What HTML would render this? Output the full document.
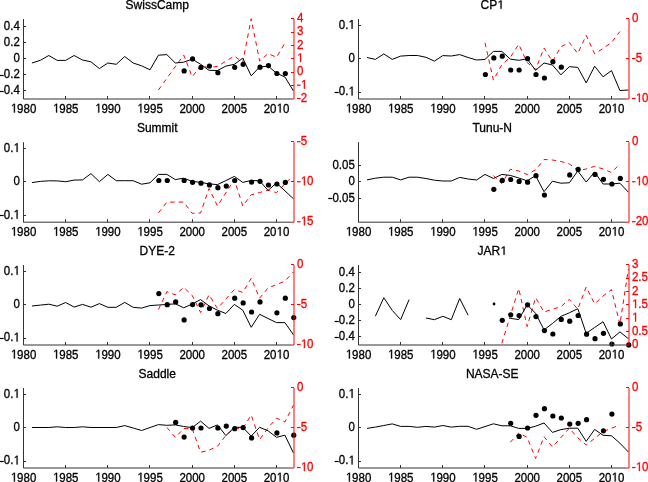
<!DOCTYPE html>
<html><head><meta charset="utf-8"><style>
html,body{margin:0;padding:0;background:#fff;}
svg{display:block;will-change:transform;}
text{font-family:"Liberation Sans",sans-serif;fill:#000;stroke:#000;stroke-width:0.3px;}
.r{fill:#ff0000;stroke:#ff0000;}
.h{fill-opacity:0;stroke-opacity:0;}
</style></head><body>
<svg width="648" height="482" viewBox="0 0 648 482">
<g transform="translate(157.23 8.7)"><text font-size="12" text-anchor="middle">SwissCamp</text></g>
<polyline points="158.43,90 183.73,55 192.16,76.8 200.59,65.8 209.03,67.6 217.46,66.4 225.89,61.2 234.32,56 242.76,62.4 251.19,18.7 259.62,61 268.06,53.6 276.49,57.3 284.92,43" fill="none" stroke="#ff0000" stroke-width="1" stroke-dasharray="4.5,4"/>
<polyline points="31.93,63 40.37,60.3 48.8,55.5 57.23,60.4 65.66,60.4 74.1,55.5 82.53,60 90.96,61.8 99.4,68.6 107.83,63 116.26,64.3 124.7,56.5 133.13,63 141.56,65.8 150,69.8 158.43,55.2 166.86,54.6 175.29,63 183.73,62.2 192.16,59.1 200.59,64.3 209.03,70.3 217.46,70.5 225.89,66.1 234.32,64.3 242.76,58.2 251.19,75.8 259.62,67 268.06,66.1 276.49,73.1 284.92,77 293.36,90.8" fill="none" stroke="#000" stroke-width="1"/>
<circle cx="184.13" cy="70.9" r="2.6" fill="#000"/>
<circle cx="192.56" cy="58.9" r="2.6" fill="#000"/>
<circle cx="200.99" cy="67.4" r="2.6" fill="#000"/>
<circle cx="209.43" cy="66.1" r="2.6" fill="#000"/>
<circle cx="217.86" cy="72.7" r="2.6" fill="#000"/>
<circle cx="234.72" cy="67.3" r="2.6" fill="#000"/>
<circle cx="243.16" cy="64.3" r="2.6" fill="#000"/>
<circle cx="260.02" cy="67.2" r="2.6" fill="#000"/>
<circle cx="268.46" cy="65.6" r="2.6" fill="#000"/>
<circle cx="276.89" cy="73.5" r="2.6" fill="#000"/>
<circle cx="285.32" cy="73.5" r="2.6" fill="#000"/>
<path d="M23.5,19 V99 H291" fill="none" stroke="#333" stroke-width="1"/>
<path d="M23.5,99 v-3" stroke="#333" stroke-width="1"/>
<g transform="translate(23.5 112.5) scale(1 1.1)"><text font-size="11.5" text-anchor="middle"><tspan class="h">1</tspan>980</text><path d="M-9.61 0V-6.95L-11.4 -5.67V-6.63L-9.53 -7.91H-8.59V0Z" fill="#000" stroke="#000" stroke-width="0.3" stroke-linejoin="miter"/></g>
<path d="M65.5,99 v-3" stroke="#333" stroke-width="1"/>
<g transform="translate(65.66 112.5) scale(1 1.1)"><text font-size="11.5" text-anchor="middle"><tspan class="h">1</tspan>985</text><path d="M-9.61 0V-6.95L-11.4 -5.67V-6.63L-9.53 -7.91H-8.59V0Z" fill="#000" stroke="#000" stroke-width="0.3" stroke-linejoin="miter"/></g>
<path d="M107.5,99 v-3" stroke="#333" stroke-width="1"/>
<g transform="translate(107.83 112.5) scale(1 1.1)"><text font-size="11.5" text-anchor="middle"><tspan class="h">1</tspan>990</text><path d="M-9.61 0V-6.95L-11.4 -5.67V-6.63L-9.53 -7.91H-8.59V0Z" fill="#000" stroke="#000" stroke-width="0.3" stroke-linejoin="miter"/></g>
<path d="M149.5,99 v-3" stroke="#333" stroke-width="1"/>
<g transform="translate(150 112.5) scale(1 1.1)"><text font-size="11.5" text-anchor="middle"><tspan class="h">1</tspan>995</text><path d="M-9.61 0V-6.95L-11.4 -5.67V-6.63L-9.53 -7.91H-8.59V0Z" fill="#000" stroke="#000" stroke-width="0.3" stroke-linejoin="miter"/></g>
<path d="M192.5,99 v-3" stroke="#333" stroke-width="1"/>
<g transform="translate(192.16 112.5) scale(1 1.1)"><text font-size="11.5" text-anchor="middle">2000</text></g>
<path d="M234.5,99 v-3" stroke="#333" stroke-width="1"/>
<g transform="translate(234.32 112.5) scale(1 1.1)"><text font-size="11.5" text-anchor="middle">2005</text></g>
<path d="M276.5,99 v-3" stroke="#333" stroke-width="1"/>
<g transform="translate(276.49 112.5) scale(1 1.1)"><text font-size="11.5" text-anchor="middle">20<tspan class="h">1</tspan>0</text><path d="M3.17 0V-6.95L1.39 -5.67V-6.63L3.26 -7.91H4.19V0Z" fill="#000" stroke="#000" stroke-width="0.3" stroke-linejoin="miter"/></g>
<path d="M23.5,26.5 h2.5" stroke="#333" stroke-width="1"/>
<g transform="translate(19.8 30.1) scale(1 1.1)"><text font-size="11.5" text-anchor="end">0.4</text></g>
<path d="M23.5,42.5 h2.5" stroke="#333" stroke-width="1"/>
<g transform="translate(19.8 46.1) scale(1 1.1)"><text font-size="11.5" text-anchor="end">0.2</text></g>
<path d="M23.5,58.5 h2.5" stroke="#333" stroke-width="1"/>
<g transform="translate(19.8 62.1) scale(1 1.1)"><text font-size="11.5" text-anchor="end">0</text></g>
<path d="M23.5,74.5 h2.5" stroke="#333" stroke-width="1"/>
<rect x="-0.39" y="74.9" width="4.1" height="1.2" fill="#000"/>
<g transform="translate(19.8 78.1) scale(1 1.1)"><text font-size="11.5" text-anchor="end">0.2</text></g>
<path d="M23.5,90.5 h2.5" stroke="#333" stroke-width="1"/>
<rect x="-0.39" y="90.9" width="4.1" height="1.2" fill="#000"/>
<g transform="translate(19.8 94.1) scale(1 1.1)"><text font-size="11.5" text-anchor="end">0.4</text></g>
<path d="M294,19 V99" fill="none" stroke="#ff0000" stroke-width="1"/>
<path d="M294,18.5 h-3" stroke="#ff0000" stroke-width="1"/>
<g transform="translate(296.9 22.1) scale(1 1.1)"><text font-size="11.5" class="r">4</text></g>
<path d="M294,32.5 h-3" stroke="#ff0000" stroke-width="1"/>
<g transform="translate(296.9 35.43) scale(1 1.1)"><text font-size="11.5" class="r">3</text></g>
<path d="M294,45.5 h-3" stroke="#ff0000" stroke-width="1"/>
<g transform="translate(296.9 48.77) scale(1 1.1)"><text font-size="11.5" class="r">2</text></g>
<path d="M294,58.5 h-3" stroke="#ff0000" stroke-width="1"/>
<g transform="translate(296.9 62.1) scale(1 1.1)"><text font-size="11.5" class="r"><tspan class="h">1</tspan></text><path d="M3.17 0V-6.95L1.39 -5.67V-6.63L3.26 -7.91H4.19V0Z" fill="#ff0000" stroke="#ff0000" stroke-width="0.3" stroke-linejoin="miter"/></g>
<path d="M294,72.5 h-3" stroke="#ff0000" stroke-width="1"/>
<g transform="translate(296.9 75.43) scale(1 1.1)"><text font-size="11.5" class="r">0</text></g>
<path d="M294,85.5 h-3" stroke="#ff0000" stroke-width="1"/>
<rect x="297" y="84.6" width="3.6" height="1.2" fill="#ff0000"/>
<g transform="translate(300.73 88.77) scale(1 1.1)"><text font-size="11.5" class="r"><tspan class="h">1</tspan></text><path d="M3.17 0V-6.95L1.39 -5.67V-6.63L3.26 -7.91H4.19V0Z" fill="#ff0000" stroke="#ff0000" stroke-width="0.3" stroke-linejoin="miter"/></g>
<path d="M294,99 h-3" stroke="#ff0000" stroke-width="1"/>
<rect x="297" y="97.93" width="3.6" height="1.2" fill="#ff0000"/>
<g transform="translate(300.73 102.1) scale(1 1.1)"><text font-size="11.5" class="r">2</text></g>
<g transform="translate(492.23 8.7)"><text font-size="12" text-anchor="middle">CP<tspan class="h">1</tspan></text><path d="M8.3 0V-7.25L6.44 -5.92V-6.91L8.39 -8.26H9.36V0Z" fill="#000" stroke="#000" stroke-width="0.3" stroke-linejoin="miter"/></g>
<polyline points="485,42.8 493.43,80.1 501.86,64.6 510.29,57.3 518.73,44.3 527.16,62.5 535.59,69.5 544.03,48 552.46,61.5 560.89,46.8 569.33,42.4 577.76,53.5 586.19,35.3 594.62,53.8 603.06,48.5 611.49,42.4 619.92,31.5" fill="none" stroke="#ff0000" stroke-width="1" stroke-dasharray="4.5,4"/>
<polyline points="366.93,57.5 375.37,59.4 383.8,53.9 392.23,59.4 400.67,56.1 409.1,55.5 417.53,55.5 425.96,57.3 434.4,61.1 442.83,55.6 451.26,56 459.7,54.6 468.13,57.5 476.56,60 485,59.4 493.43,51.4 501.86,51.4 510.29,59.1 518.73,60.3 527.16,58.8 535.59,70.4 544.03,63 552.46,65 560.89,74.8 569.33,66.7 577.76,67.4 586.19,82.9 594.62,66.2 603.06,76.8 611.49,70.6 619.92,90.5 628.36,90" fill="none" stroke="#000" stroke-width="1"/>
<circle cx="485.39" cy="74.5" r="2.6" fill="#000"/>
<circle cx="493.83" cy="57.9" r="2.6" fill="#000"/>
<circle cx="502.26" cy="56.2" r="2.6" fill="#000"/>
<circle cx="510.69" cy="70" r="2.6" fill="#000"/>
<circle cx="519.13" cy="70" r="2.6" fill="#000"/>
<circle cx="527.56" cy="58.7" r="2.6" fill="#000"/>
<circle cx="535.99" cy="74.5" r="2.6" fill="#000"/>
<circle cx="544.43" cy="78" r="2.6" fill="#000"/>
<circle cx="552.86" cy="61.7" r="2.6" fill="#000"/>
<circle cx="561.29" cy="67.2" r="2.6" fill="#000"/>
<path d="M358.5,19 V99 H626" fill="none" stroke="#333" stroke-width="1"/>
<path d="M358.5,99 v-3" stroke="#333" stroke-width="1"/>
<g transform="translate(358.5 112.5) scale(1 1.1)"><text font-size="11.5" text-anchor="middle"><tspan class="h">1</tspan>980</text><path d="M-9.61 0V-6.95L-11.4 -5.67V-6.63L-9.53 -7.91H-8.59V0Z" fill="#000" stroke="#000" stroke-width="0.3" stroke-linejoin="miter"/></g>
<path d="M400.5,99 v-3" stroke="#333" stroke-width="1"/>
<g transform="translate(400.67 112.5) scale(1 1.1)"><text font-size="11.5" text-anchor="middle"><tspan class="h">1</tspan>985</text><path d="M-9.61 0V-6.95L-11.4 -5.67V-6.63L-9.53 -7.91H-8.59V0Z" fill="#000" stroke="#000" stroke-width="0.3" stroke-linejoin="miter"/></g>
<path d="M442.5,99 v-3" stroke="#333" stroke-width="1"/>
<g transform="translate(442.83 112.5) scale(1 1.1)"><text font-size="11.5" text-anchor="middle"><tspan class="h">1</tspan>990</text><path d="M-9.61 0V-6.95L-11.4 -5.67V-6.63L-9.53 -7.91H-8.59V0Z" fill="#000" stroke="#000" stroke-width="0.3" stroke-linejoin="miter"/></g>
<path d="M484.5,99 v-3" stroke="#333" stroke-width="1"/>
<g transform="translate(485 112.5) scale(1 1.1)"><text font-size="11.5" text-anchor="middle"><tspan class="h">1</tspan>995</text><path d="M-9.61 0V-6.95L-11.4 -5.67V-6.63L-9.53 -7.91H-8.59V0Z" fill="#000" stroke="#000" stroke-width="0.3" stroke-linejoin="miter"/></g>
<path d="M527.5,99 v-3" stroke="#333" stroke-width="1"/>
<g transform="translate(527.16 112.5) scale(1 1.1)"><text font-size="11.5" text-anchor="middle">2000</text></g>
<path d="M569.5,99 v-3" stroke="#333" stroke-width="1"/>
<g transform="translate(569.33 112.5) scale(1 1.1)"><text font-size="11.5" text-anchor="middle">2005</text></g>
<path d="M611.5,99 v-3" stroke="#333" stroke-width="1"/>
<g transform="translate(611.49 112.5) scale(1 1.1)"><text font-size="11.5" text-anchor="middle">20<tspan class="h">1</tspan>0</text><path d="M3.17 0V-6.95L1.39 -5.67V-6.63L3.26 -7.91H4.19V0Z" fill="#000" stroke="#000" stroke-width="0.3" stroke-linejoin="miter"/></g>
<path d="M358.5,25.5 h2.5" stroke="#333" stroke-width="1"/>
<g transform="translate(354.8 28.77) scale(1 1.1)"><text font-size="11.5" text-anchor="end">0.<tspan class="h">1</tspan></text><path d="M-3.22 0V-6.95L-5 -5.67V-6.63L-3.13 -7.91H-2.2V0Z" fill="#000" stroke="#000" stroke-width="0.3" stroke-linejoin="miter"/></g>
<path d="M358.5,58.5 h2.5" stroke="#333" stroke-width="1"/>
<g transform="translate(354.8 62.1) scale(1 1.1)"><text font-size="11.5" text-anchor="end">0</text></g>
<path d="M358.5,92.5 h2.5" stroke="#333" stroke-width="1"/>
<rect x="334.62" y="91.9" width="4.1" height="1.2" fill="#000"/>
<g transform="translate(354.8 95.43) scale(1 1.1)"><text font-size="11.5" text-anchor="end">0.<tspan class="h">1</tspan></text><path d="M-3.22 0V-6.95L-5 -5.67V-6.63L-3.13 -7.91H-2.2V0Z" fill="#000" stroke="#000" stroke-width="0.3" stroke-linejoin="miter"/></g>
<path d="M629,19 V99" fill="none" stroke="#ff0000" stroke-width="1"/>
<path d="M629,18.5 h-3" stroke="#ff0000" stroke-width="1"/>
<g transform="translate(631.9 22.1) scale(1 1.1)"><text font-size="11.5" class="r">0</text></g>
<path d="M629,58.5 h-3" stroke="#ff0000" stroke-width="1"/>
<rect x="632" y="57.93" width="3.6" height="1.2" fill="#ff0000"/>
<g transform="translate(635.73 62.1) scale(1 1.1)"><text font-size="11.5" class="r">5</text></g>
<path d="M629,99 h-3" stroke="#ff0000" stroke-width="1"/>
<rect x="632" y="97.93" width="3.6" height="1.2" fill="#ff0000"/>
<g transform="translate(635.73 102.1) scale(1 1.1)"><text font-size="11.5" class="r"><tspan class="h">1</tspan>0</text><path d="M3.17 0V-6.95L1.39 -5.67V-6.63L3.26 -7.91H4.19V0Z" fill="#ff0000" stroke="#ff0000" stroke-width="0.3" stroke-linejoin="miter"/></g>
<g transform="translate(157.23 131.9)"><text font-size="12" text-anchor="middle">Summit</text></g>
<polyline points="158.43,212.9 166.86,202.1 175.29,202.1 183.73,202.1 192.16,213.3 200.59,213 209.03,188.5 217.46,206 234.32,179.5 242.76,206 251.19,194.8 259.62,192.5 268.06,190.3 276.49,192.6 289.98,178.7" fill="none" stroke="#ff0000" stroke-width="1" stroke-dasharray="4.5,4"/>
<polyline points="31.93,182.6 40.37,181.4 48.8,180.8 57.23,180.9 65.66,181.7 74.1,180.1 82.53,179.9 90.96,173.6 99.4,181.7 107.83,174.4 116.26,180.7 124.7,180.7 133.13,180.7 141.56,184.2 150,182.8 158.43,174.4 166.86,174.4 175.29,179.6 183.73,178.2 192.16,181.4 200.59,182.3 209.03,183.9 217.46,184.6 225.89,180.6 234.32,176.4 242.76,182.4 251.19,180.5 259.62,180.8 268.06,190.4 276.49,183 293.36,198.7" fill="none" stroke="#000" stroke-width="1"/>
<circle cx="158.83" cy="180.5" r="2.6" fill="#000"/>
<circle cx="167.26" cy="180.5" r="2.6" fill="#000"/>
<circle cx="184.13" cy="180.5" r="2.6" fill="#000"/>
<circle cx="192.56" cy="182.3" r="2.6" fill="#000"/>
<circle cx="200.99" cy="183.2" r="2.6" fill="#000"/>
<circle cx="209.43" cy="184.9" r="2.6" fill="#000"/>
<circle cx="217.86" cy="187.7" r="2.6" fill="#000"/>
<circle cx="226.29" cy="186.1" r="2.6" fill="#000"/>
<circle cx="234.72" cy="180.5" r="2.6" fill="#000"/>
<circle cx="251.59" cy="182.1" r="2.6" fill="#000"/>
<circle cx="260.02" cy="181.3" r="2.6" fill="#000"/>
<circle cx="268.46" cy="185" r="2.6" fill="#000"/>
<circle cx="276.89" cy="184" r="2.6" fill="#000"/>
<circle cx="285.32" cy="182.4" r="2.6" fill="#000"/>
<path d="M23.5,142.2 V222.2 H291" fill="none" stroke="#333" stroke-width="1"/>
<path d="M23.5,222.2 v-3" stroke="#333" stroke-width="1"/>
<g transform="translate(23.5 235.7) scale(1 1.1)"><text font-size="11.5" text-anchor="middle"><tspan class="h">1</tspan>980</text><path d="M-9.61 0V-6.95L-11.4 -5.67V-6.63L-9.53 -7.91H-8.59V0Z" fill="#000" stroke="#000" stroke-width="0.3" stroke-linejoin="miter"/></g>
<path d="M65.5,222.2 v-3" stroke="#333" stroke-width="1"/>
<g transform="translate(65.66 235.7) scale(1 1.1)"><text font-size="11.5" text-anchor="middle"><tspan class="h">1</tspan>985</text><path d="M-9.61 0V-6.95L-11.4 -5.67V-6.63L-9.53 -7.91H-8.59V0Z" fill="#000" stroke="#000" stroke-width="0.3" stroke-linejoin="miter"/></g>
<path d="M107.5,222.2 v-3" stroke="#333" stroke-width="1"/>
<g transform="translate(107.83 235.7) scale(1 1.1)"><text font-size="11.5" text-anchor="middle"><tspan class="h">1</tspan>990</text><path d="M-9.61 0V-6.95L-11.4 -5.67V-6.63L-9.53 -7.91H-8.59V0Z" fill="#000" stroke="#000" stroke-width="0.3" stroke-linejoin="miter"/></g>
<path d="M149.5,222.2 v-3" stroke="#333" stroke-width="1"/>
<g transform="translate(150 235.7) scale(1 1.1)"><text font-size="11.5" text-anchor="middle"><tspan class="h">1</tspan>995</text><path d="M-9.61 0V-6.95L-11.4 -5.67V-6.63L-9.53 -7.91H-8.59V0Z" fill="#000" stroke="#000" stroke-width="0.3" stroke-linejoin="miter"/></g>
<path d="M192.5,222.2 v-3" stroke="#333" stroke-width="1"/>
<g transform="translate(192.16 235.7) scale(1 1.1)"><text font-size="11.5" text-anchor="middle">2000</text></g>
<path d="M234.5,222.2 v-3" stroke="#333" stroke-width="1"/>
<g transform="translate(234.32 235.7) scale(1 1.1)"><text font-size="11.5" text-anchor="middle">2005</text></g>
<path d="M276.5,222.2 v-3" stroke="#333" stroke-width="1"/>
<g transform="translate(276.49 235.7) scale(1 1.1)"><text font-size="11.5" text-anchor="middle">20<tspan class="h">1</tspan>0</text><path d="M3.17 0V-6.95L1.39 -5.67V-6.63L3.26 -7.91H4.19V0Z" fill="#000" stroke="#000" stroke-width="0.3" stroke-linejoin="miter"/></g>
<path d="M23.5,148.5 h2.5" stroke="#333" stroke-width="1"/>
<g transform="translate(19.8 151.97) scale(1 1.1)"><text font-size="11.5" text-anchor="end">0.<tspan class="h">1</tspan></text><path d="M-3.22 0V-6.95L-5 -5.67V-6.63L-3.13 -7.91H-2.2V0Z" fill="#000" stroke="#000" stroke-width="0.3" stroke-linejoin="miter"/></g>
<path d="M23.5,181.5 h2.5" stroke="#333" stroke-width="1"/>
<g transform="translate(19.8 185.3) scale(1 1.1)"><text font-size="11.5" text-anchor="end">0</text></g>
<path d="M23.5,215.5 h2.5" stroke="#333" stroke-width="1"/>
<rect x="-0.39" y="214.9" width="4.1" height="1.2" fill="#000"/>
<g transform="translate(19.8 218.63) scale(1 1.1)"><text font-size="11.5" text-anchor="end">0.<tspan class="h">1</tspan></text><path d="M-3.22 0V-6.95L-5 -5.67V-6.63L-3.13 -7.91H-2.2V0Z" fill="#000" stroke="#000" stroke-width="0.3" stroke-linejoin="miter"/></g>
<path d="M294,142.2 V222.2" fill="none" stroke="#ff0000" stroke-width="1"/>
<path d="M294,141.5 h-3" stroke="#ff0000" stroke-width="1"/>
<rect x="297" y="141.13" width="3.6" height="1.2" fill="#ff0000"/>
<g transform="translate(300.73 145.3) scale(1 1.1)"><text font-size="11.5" class="r">5</text></g>
<path d="M294,181.5 h-3" stroke="#ff0000" stroke-width="1"/>
<rect x="297" y="181.13" width="3.6" height="1.2" fill="#ff0000"/>
<g transform="translate(300.73 185.3) scale(1 1.1)"><text font-size="11.5" class="r"><tspan class="h">1</tspan>0</text><path d="M3.17 0V-6.95L1.39 -5.67V-6.63L3.26 -7.91H4.19V0Z" fill="#ff0000" stroke="#ff0000" stroke-width="0.3" stroke-linejoin="miter"/></g>
<path d="M294,222.2 h-3" stroke="#ff0000" stroke-width="1"/>
<rect x="297" y="221.13" width="3.6" height="1.2" fill="#ff0000"/>
<g transform="translate(300.73 225.3) scale(1 1.1)"><text font-size="11.5" class="r"><tspan class="h">1</tspan>5</text><path d="M3.17 0V-6.95L1.39 -5.67V-6.63L3.26 -7.91H4.19V0Z" fill="#ff0000" stroke="#ff0000" stroke-width="0.3" stroke-linejoin="miter"/></g>
<g transform="translate(492.23 131.9)"><text font-size="12" text-anchor="middle">Tunu-N</text></g>
<polyline points="493.43,175.7 501.86,183.5 510.29,169.2 518.73,171 527.16,174.5 535.59,169.8 544.03,159.5 552.46,160 560.89,161.5 569.33,163.9 577.76,170.5 586.19,169 594.62,166.3 603.06,169 611.49,172.5 619.92,163.9" fill="none" stroke="#ff0000" stroke-width="1" stroke-dasharray="4.5,4"/>
<polyline points="366.93,179.9 375.37,178.2 383.8,177.2 392.23,177.2 400.67,179.9 409.1,177.2 417.53,177.2 425.96,178.5 434.4,180.2 442.83,181 451.26,181 459.7,177.4 468.13,179 476.56,180 485,174.4 493.43,178.5 501.86,174.4 510.29,175.4 518.73,178 527.16,180.8 535.59,175.6 544.03,191.7 552.46,181.2 560.89,183.2 569.33,182.8 577.76,171 586.19,182 594.62,172.1 603.06,184 611.49,184 619.92,183.2 628.36,192.2" fill="none" stroke="#000" stroke-width="1"/>
<circle cx="493.83" cy="189.3" r="2.6" fill="#000"/>
<circle cx="502.26" cy="180.4" r="2.6" fill="#000"/>
<circle cx="510.69" cy="179.5" r="2.6" fill="#000"/>
<circle cx="519.13" cy="181.4" r="2.6" fill="#000"/>
<circle cx="527.56" cy="182.2" r="2.6" fill="#000"/>
<circle cx="535.99" cy="175.7" r="2.6" fill="#000"/>
<circle cx="544.43" cy="195.1" r="2.6" fill="#000"/>
<circle cx="569.73" cy="174.9" r="2.6" fill="#000"/>
<circle cx="578.16" cy="169.4" r="2.6" fill="#000"/>
<circle cx="595.02" cy="174.4" r="2.6" fill="#000"/>
<circle cx="603.46" cy="179.3" r="2.6" fill="#000"/>
<circle cx="611.89" cy="184" r="2.6" fill="#000"/>
<circle cx="620.32" cy="178.4" r="2.6" fill="#000"/>
<path d="M358.5,142.2 V222.2 H626" fill="none" stroke="#333" stroke-width="1"/>
<path d="M358.5,222.2 v-3" stroke="#333" stroke-width="1"/>
<g transform="translate(358.5 235.7) scale(1 1.1)"><text font-size="11.5" text-anchor="middle"><tspan class="h">1</tspan>980</text><path d="M-9.61 0V-6.95L-11.4 -5.67V-6.63L-9.53 -7.91H-8.59V0Z" fill="#000" stroke="#000" stroke-width="0.3" stroke-linejoin="miter"/></g>
<path d="M400.5,222.2 v-3" stroke="#333" stroke-width="1"/>
<g transform="translate(400.67 235.7) scale(1 1.1)"><text font-size="11.5" text-anchor="middle"><tspan class="h">1</tspan>985</text><path d="M-9.61 0V-6.95L-11.4 -5.67V-6.63L-9.53 -7.91H-8.59V0Z" fill="#000" stroke="#000" stroke-width="0.3" stroke-linejoin="miter"/></g>
<path d="M442.5,222.2 v-3" stroke="#333" stroke-width="1"/>
<g transform="translate(442.83 235.7) scale(1 1.1)"><text font-size="11.5" text-anchor="middle"><tspan class="h">1</tspan>990</text><path d="M-9.61 0V-6.95L-11.4 -5.67V-6.63L-9.53 -7.91H-8.59V0Z" fill="#000" stroke="#000" stroke-width="0.3" stroke-linejoin="miter"/></g>
<path d="M484.5,222.2 v-3" stroke="#333" stroke-width="1"/>
<g transform="translate(485 235.7) scale(1 1.1)"><text font-size="11.5" text-anchor="middle"><tspan class="h">1</tspan>995</text><path d="M-9.61 0V-6.95L-11.4 -5.67V-6.63L-9.53 -7.91H-8.59V0Z" fill="#000" stroke="#000" stroke-width="0.3" stroke-linejoin="miter"/></g>
<path d="M527.5,222.2 v-3" stroke="#333" stroke-width="1"/>
<g transform="translate(527.16 235.7) scale(1 1.1)"><text font-size="11.5" text-anchor="middle">2000</text></g>
<path d="M569.5,222.2 v-3" stroke="#333" stroke-width="1"/>
<g transform="translate(569.33 235.7) scale(1 1.1)"><text font-size="11.5" text-anchor="middle">2005</text></g>
<path d="M611.5,222.2 v-3" stroke="#333" stroke-width="1"/>
<g transform="translate(611.49 235.7) scale(1 1.1)"><text font-size="11.5" text-anchor="middle">20<tspan class="h">1</tspan>0</text><path d="M3.17 0V-6.95L1.39 -5.67V-6.63L3.26 -7.91H4.19V0Z" fill="#000" stroke="#000" stroke-width="0.3" stroke-linejoin="miter"/></g>
<path d="M358.5,165.5 h2.5" stroke="#333" stroke-width="1"/>
<g transform="translate(354.8 168.63) scale(1 1.1)"><text font-size="11.5" text-anchor="end">0.05</text></g>
<path d="M358.5,181.5 h2.5" stroke="#333" stroke-width="1"/>
<g transform="translate(354.8 185.3) scale(1 1.1)"><text font-size="11.5" text-anchor="end">0</text></g>
<path d="M358.5,198.5 h2.5" stroke="#333" stroke-width="1"/>
<rect x="328.22" y="197.9" width="4.1" height="1.2" fill="#000"/>
<g transform="translate(354.8 201.97) scale(1 1.1)"><text font-size="11.5" text-anchor="end">0.05</text></g>
<path d="M629,142.2 V222.2" fill="none" stroke="#ff0000" stroke-width="1"/>
<path d="M629,141.5 h-3" stroke="#ff0000" stroke-width="1"/>
<g transform="translate(631.9 145.3) scale(1 1.1)"><text font-size="11.5" class="r">0</text></g>
<path d="M629,181.5 h-3" stroke="#ff0000" stroke-width="1"/>
<rect x="632" y="181.13" width="3.6" height="1.2" fill="#ff0000"/>
<g transform="translate(635.73 185.3) scale(1 1.1)"><text font-size="11.5" class="r"><tspan class="h">1</tspan>0</text><path d="M3.17 0V-6.95L1.39 -5.67V-6.63L3.26 -7.91H4.19V0Z" fill="#ff0000" stroke="#ff0000" stroke-width="0.3" stroke-linejoin="miter"/></g>
<path d="M629,222.2 h-3" stroke="#ff0000" stroke-width="1"/>
<rect x="632" y="221.13" width="3.6" height="1.2" fill="#ff0000"/>
<g transform="translate(635.73 225.3) scale(1 1.1)"><text font-size="11.5" class="r">20</text></g>
<g transform="translate(157.23 254.7)"><text font-size="12" text-anchor="middle">DYE-2</text></g>
<polyline points="158.43,309.6 166.86,291.6 175.29,294.8 183.73,287.4 192.16,295.3 200.59,312.5 209.03,294.8 217.46,308.5 234.32,289.6 242.76,292.4 251.19,278.3 259.62,298.2 268.06,287.9 276.49,284.6 284.92,281.1 293.36,272" fill="none" stroke="#ff0000" stroke-width="1" stroke-dasharray="4.5,4"/>
<polyline points="31.93,306 40.37,305.1 48.8,304.2 57.23,306.2 65.66,302.5 74.1,307.1 82.53,304.4 90.96,307.2 99.4,303.6 107.83,307.3 116.26,307.3 124.7,302.4 133.13,307.3 141.56,308.1 150,305.6 158.43,305 166.86,304.5 175.29,303.8 183.73,307.8 192.16,304 200.59,299.6 209.03,305.9 217.46,310.2 225.89,313.5 234.32,304.4 242.76,310.2 251.19,327.3 259.62,314.3 268.06,318.5 276.49,322.6 284.92,322.6 293.36,334.7" fill="none" stroke="#000" stroke-width="1"/>
<circle cx="158.83" cy="293.6" r="2.6" fill="#000"/>
<circle cx="167.26" cy="304.7" r="2.6" fill="#000"/>
<circle cx="175.69" cy="301.9" r="2.6" fill="#000"/>
<circle cx="184.13" cy="319.9" r="2.6" fill="#000"/>
<circle cx="192.56" cy="304.6" r="2.6" fill="#000"/>
<circle cx="200.99" cy="304.8" r="2.6" fill="#000"/>
<circle cx="209.43" cy="308.5" r="2.6" fill="#000"/>
<circle cx="217.86" cy="313.7" r="2.6" fill="#000"/>
<circle cx="234.72" cy="298.2" r="2.6" fill="#000"/>
<circle cx="243.16" cy="302.9" r="2.6" fill="#000"/>
<circle cx="251.59" cy="312" r="2.6" fill="#000"/>
<circle cx="260.02" cy="301.9" r="2.6" fill="#000"/>
<circle cx="276.89" cy="312.8" r="2.6" fill="#000"/>
<circle cx="285.32" cy="298.2" r="2.6" fill="#000"/>
<circle cx="293.76" cy="317.6" r="2.6" fill="#000"/>
<path d="M23.5,265 V345 H291" fill="none" stroke="#333" stroke-width="1"/>
<path d="M23.5,345 v-3" stroke="#333" stroke-width="1"/>
<g transform="translate(23.5 358.5) scale(1 1.1)"><text font-size="11.5" text-anchor="middle"><tspan class="h">1</tspan>980</text><path d="M-9.61 0V-6.95L-11.4 -5.67V-6.63L-9.53 -7.91H-8.59V0Z" fill="#000" stroke="#000" stroke-width="0.3" stroke-linejoin="miter"/></g>
<path d="M65.5,345 v-3" stroke="#333" stroke-width="1"/>
<g transform="translate(65.66 358.5) scale(1 1.1)"><text font-size="11.5" text-anchor="middle"><tspan class="h">1</tspan>985</text><path d="M-9.61 0V-6.95L-11.4 -5.67V-6.63L-9.53 -7.91H-8.59V0Z" fill="#000" stroke="#000" stroke-width="0.3" stroke-linejoin="miter"/></g>
<path d="M107.5,345 v-3" stroke="#333" stroke-width="1"/>
<g transform="translate(107.83 358.5) scale(1 1.1)"><text font-size="11.5" text-anchor="middle"><tspan class="h">1</tspan>990</text><path d="M-9.61 0V-6.95L-11.4 -5.67V-6.63L-9.53 -7.91H-8.59V0Z" fill="#000" stroke="#000" stroke-width="0.3" stroke-linejoin="miter"/></g>
<path d="M149.5,345 v-3" stroke="#333" stroke-width="1"/>
<g transform="translate(150 358.5) scale(1 1.1)"><text font-size="11.5" text-anchor="middle"><tspan class="h">1</tspan>995</text><path d="M-9.61 0V-6.95L-11.4 -5.67V-6.63L-9.53 -7.91H-8.59V0Z" fill="#000" stroke="#000" stroke-width="0.3" stroke-linejoin="miter"/></g>
<path d="M192.5,345 v-3" stroke="#333" stroke-width="1"/>
<g transform="translate(192.16 358.5) scale(1 1.1)"><text font-size="11.5" text-anchor="middle">2000</text></g>
<path d="M234.5,345 v-3" stroke="#333" stroke-width="1"/>
<g transform="translate(234.32 358.5) scale(1 1.1)"><text font-size="11.5" text-anchor="middle">2005</text></g>
<path d="M276.5,345 v-3" stroke="#333" stroke-width="1"/>
<g transform="translate(276.49 358.5) scale(1 1.1)"><text font-size="11.5" text-anchor="middle">20<tspan class="h">1</tspan>0</text><path d="M3.17 0V-6.95L1.39 -5.67V-6.63L3.26 -7.91H4.19V0Z" fill="#000" stroke="#000" stroke-width="0.3" stroke-linejoin="miter"/></g>
<path d="M23.5,271.5 h2.5" stroke="#333" stroke-width="1"/>
<g transform="translate(19.8 274.77) scale(1 1.1)"><text font-size="11.5" text-anchor="end">0.<tspan class="h">1</tspan></text><path d="M-3.22 0V-6.95L-5 -5.67V-6.63L-3.13 -7.91H-2.2V0Z" fill="#000" stroke="#000" stroke-width="0.3" stroke-linejoin="miter"/></g>
<path d="M23.5,304.5 h2.5" stroke="#333" stroke-width="1"/>
<g transform="translate(19.8 308.1) scale(1 1.1)"><text font-size="11.5" text-anchor="end">0</text></g>
<path d="M23.5,338.5 h2.5" stroke="#333" stroke-width="1"/>
<rect x="-0.39" y="337.9" width="4.1" height="1.2" fill="#000"/>
<g transform="translate(19.8 341.43) scale(1 1.1)"><text font-size="11.5" text-anchor="end">0.<tspan class="h">1</tspan></text><path d="M-3.22 0V-6.95L-5 -5.67V-6.63L-3.13 -7.91H-2.2V0Z" fill="#000" stroke="#000" stroke-width="0.3" stroke-linejoin="miter"/></g>
<path d="M294,265 V345" fill="none" stroke="#ff0000" stroke-width="1"/>
<path d="M294,264.5 h-3" stroke="#ff0000" stroke-width="1"/>
<g transform="translate(296.9 268.1) scale(1 1.1)"><text font-size="11.5" class="r">0</text></g>
<path d="M294,304.5 h-3" stroke="#ff0000" stroke-width="1"/>
<rect x="297" y="303.93" width="3.6" height="1.2" fill="#ff0000"/>
<g transform="translate(300.73 308.1) scale(1 1.1)"><text font-size="11.5" class="r">5</text></g>
<path d="M294,345 h-3" stroke="#ff0000" stroke-width="1"/>
<rect x="297" y="343.93" width="3.6" height="1.2" fill="#ff0000"/>
<g transform="translate(300.73 348.1) scale(1 1.1)"><text font-size="11.5" class="r"><tspan class="h">1</tspan>0</text><path d="M3.17 0V-6.95L1.39 -5.67V-6.63L3.26 -7.91H4.19V0Z" fill="#ff0000" stroke="#ff0000" stroke-width="0.3" stroke-linejoin="miter"/></g>
<g transform="translate(492.23 254.7)"><text font-size="12" text-anchor="middle">JAR<tspan class="h">1</tspan></text><path d="M11.3 0V-7.25L9.44 -5.92V-6.91L11.39 -8.26H12.36V0Z" fill="#000" stroke="#000" stroke-width="0.3" stroke-linejoin="miter"/></g>
<polyline points="501.86,343.3 518.73,288.5 527.16,326.5 535.59,297.7 544.03,312 552.46,309.3 560.89,306.7 569.33,299.4 577.76,309.2 586.19,287 594.62,303.9 603.06,296 611.49,289.6 619.92,324.4 628.36,269.1" fill="none" stroke="#ff0000" stroke-width="1" stroke-dasharray="4.5,4"/>
<polyline points="375.37,316.2 383.8,297.7 392.23,310.4 400.67,319.6 409.1,299.6" fill="none" stroke="#000" stroke-width="1"/>
<polyline points="425.96,318 434.4,319.7 442.83,316.3 451.26,319.7 459.7,298.5 468.13,315.2" fill="none" stroke="#000" stroke-width="1"/>
<polyline points="510.29,318.3 518.73,319.6 527.16,304.8 535.59,313.3 544.03,329.8 552.46,323.5 560.89,316.4 569.33,312.8 577.76,308.7 586.19,333.3 594.62,327.5 603.06,321.7 611.49,339 619.92,331.9 628.36,338.7" fill="none" stroke="#000" stroke-width="1"/>
<circle cx="502.26" cy="320.3" r="2.6" fill="#000"/>
<circle cx="510.69" cy="314.8" r="2.6" fill="#000"/>
<circle cx="519.13" cy="315.6" r="2.6" fill="#000"/>
<circle cx="527.56" cy="304.8" r="2.6" fill="#000"/>
<circle cx="535.99" cy="316.6" r="2.6" fill="#000"/>
<circle cx="544.43" cy="330.6" r="2.6" fill="#000"/>
<circle cx="552.86" cy="334" r="2.6" fill="#000"/>
<circle cx="561.29" cy="319.4" r="2.6" fill="#000"/>
<circle cx="569.73" cy="321.2" r="2.6" fill="#000"/>
<circle cx="578.16" cy="315.5" r="2.6" fill="#000"/>
<circle cx="586.59" cy="334.2" r="2.6" fill="#000"/>
<circle cx="595.02" cy="338.7" r="2.6" fill="#000"/>
<circle cx="603.46" cy="333.3" r="2.6" fill="#000"/>
<circle cx="611.89" cy="344" r="2.6" fill="#000"/>
<circle cx="620.32" cy="323.9" r="2.6" fill="#000"/>
<circle cx="628.76" cy="344.9" r="2.6" fill="#000"/>
<circle cx="494.03" cy="304" r="1.4" fill="#000"/>
<path d="M358.5,265 V345 H626" fill="none" stroke="#333" stroke-width="1"/>
<path d="M358.5,345 v-3" stroke="#333" stroke-width="1"/>
<g transform="translate(358.5 358.5) scale(1 1.1)"><text font-size="11.5" text-anchor="middle"><tspan class="h">1</tspan>980</text><path d="M-9.61 0V-6.95L-11.4 -5.67V-6.63L-9.53 -7.91H-8.59V0Z" fill="#000" stroke="#000" stroke-width="0.3" stroke-linejoin="miter"/></g>
<path d="M400.5,345 v-3" stroke="#333" stroke-width="1"/>
<g transform="translate(400.67 358.5) scale(1 1.1)"><text font-size="11.5" text-anchor="middle"><tspan class="h">1</tspan>985</text><path d="M-9.61 0V-6.95L-11.4 -5.67V-6.63L-9.53 -7.91H-8.59V0Z" fill="#000" stroke="#000" stroke-width="0.3" stroke-linejoin="miter"/></g>
<path d="M442.5,345 v-3" stroke="#333" stroke-width="1"/>
<g transform="translate(442.83 358.5) scale(1 1.1)"><text font-size="11.5" text-anchor="middle"><tspan class="h">1</tspan>990</text><path d="M-9.61 0V-6.95L-11.4 -5.67V-6.63L-9.53 -7.91H-8.59V0Z" fill="#000" stroke="#000" stroke-width="0.3" stroke-linejoin="miter"/></g>
<path d="M484.5,345 v-3" stroke="#333" stroke-width="1"/>
<g transform="translate(485 358.5) scale(1 1.1)"><text font-size="11.5" text-anchor="middle"><tspan class="h">1</tspan>995</text><path d="M-9.61 0V-6.95L-11.4 -5.67V-6.63L-9.53 -7.91H-8.59V0Z" fill="#000" stroke="#000" stroke-width="0.3" stroke-linejoin="miter"/></g>
<path d="M527.5,345 v-3" stroke="#333" stroke-width="1"/>
<g transform="translate(527.16 358.5) scale(1 1.1)"><text font-size="11.5" text-anchor="middle">2000</text></g>
<path d="M569.5,345 v-3" stroke="#333" stroke-width="1"/>
<g transform="translate(569.33 358.5) scale(1 1.1)"><text font-size="11.5" text-anchor="middle">2005</text></g>
<path d="M611.5,345 v-3" stroke="#333" stroke-width="1"/>
<g transform="translate(611.49 358.5) scale(1 1.1)"><text font-size="11.5" text-anchor="middle">20<tspan class="h">1</tspan>0</text><path d="M3.17 0V-6.95L1.39 -5.67V-6.63L3.26 -7.91H4.19V0Z" fill="#000" stroke="#000" stroke-width="0.3" stroke-linejoin="miter"/></g>
<path d="M358.5,272.5 h2.5" stroke="#333" stroke-width="1"/>
<g transform="translate(354.8 276.1) scale(1 1.1)"><text font-size="11.5" text-anchor="end">0.4</text></g>
<path d="M358.5,288.5 h2.5" stroke="#333" stroke-width="1"/>
<g transform="translate(354.8 292.1) scale(1 1.1)"><text font-size="11.5" text-anchor="end">0.2</text></g>
<path d="M358.5,304.5 h2.5" stroke="#333" stroke-width="1"/>
<g transform="translate(354.8 308.1) scale(1 1.1)"><text font-size="11.5" text-anchor="end">0</text></g>
<path d="M358.5,320.5 h2.5" stroke="#333" stroke-width="1"/>
<rect x="334.62" y="320.9" width="4.1" height="1.2" fill="#000"/>
<g transform="translate(354.8 324.1) scale(1 1.1)"><text font-size="11.5" text-anchor="end">0.2</text></g>
<path d="M358.5,336.5 h2.5" stroke="#333" stroke-width="1"/>
<rect x="334.62" y="336.9" width="4.1" height="1.2" fill="#000"/>
<g transform="translate(354.8 340.1) scale(1 1.1)"><text font-size="11.5" text-anchor="end">0.4</text></g>
<path d="M629,265 V345" fill="none" stroke="#ff0000" stroke-width="1"/>
<path d="M629,264.5 h-3" stroke="#ff0000" stroke-width="1"/>
<g transform="translate(631.9 268.1) scale(1 1.1)"><text font-size="11.5" class="r">3</text></g>
<path d="M629,278.5 h-3" stroke="#ff0000" stroke-width="1"/>
<g transform="translate(631.9 281.43) scale(1 1.1)"><text font-size="11.5" class="r">2.5</text></g>
<path d="M629,291.5 h-3" stroke="#ff0000" stroke-width="1"/>
<g transform="translate(631.9 294.77) scale(1 1.1)"><text font-size="11.5" class="r">2</text></g>
<path d="M629,304.5 h-3" stroke="#ff0000" stroke-width="1"/>
<g transform="translate(631.9 308.1) scale(1 1.1)"><text font-size="11.5" class="r"><tspan class="h">1</tspan>.5</text><path d="M3.17 0V-6.95L1.39 -5.67V-6.63L3.26 -7.91H4.19V0Z" fill="#ff0000" stroke="#ff0000" stroke-width="0.3" stroke-linejoin="miter"/></g>
<path d="M629,318.5 h-3" stroke="#ff0000" stroke-width="1"/>
<g transform="translate(631.9 321.43) scale(1 1.1)"><text font-size="11.5" class="r"><tspan class="h">1</tspan></text><path d="M3.17 0V-6.95L1.39 -5.67V-6.63L3.26 -7.91H4.19V0Z" fill="#ff0000" stroke="#ff0000" stroke-width="0.3" stroke-linejoin="miter"/></g>
<path d="M629,331.5 h-3" stroke="#ff0000" stroke-width="1"/>
<g transform="translate(631.9 334.77) scale(1 1.1)"><text font-size="11.5" class="r">0.5</text></g>
<path d="M629,345 h-3" stroke="#ff0000" stroke-width="1"/>
<g transform="translate(631.9 348.1) scale(1 1.1)"><text font-size="11.5" class="r">0</text></g>
<g transform="translate(157.23 377.7)"><text font-size="12" text-anchor="middle">Saddle</text></g>
<polyline points="166.86,427.4 175.29,437.4 183.73,428.6 192.16,428.6 200.59,452.3 209.03,450.2 217.46,446.3 225.89,435.5 234.32,428.2 242.76,428.5 251.19,415 259.62,439.6 268.06,428 276.49,418.1 284.92,422 293.36,405.3" fill="none" stroke="#ff0000" stroke-width="1" stroke-dasharray="4.5,4"/>
<polyline points="31.93,427.5 48.8,427.5 57.23,426.8 65.66,427.5 74.1,427.5 82.53,426.8 90.96,427.5 116.26,427.5 124.7,425.6 133.13,428 141.56,430.5 150,427.5 158.43,424.6 166.86,425.3 175.29,424.9 183.73,426.5 192.16,427.6 200.59,421.2 209.03,428.4 217.46,424.9 225.89,435.6 234.32,427.3 242.76,427.3 251.19,436.1 259.62,427.3 268.06,430.8 276.49,437.3 284.92,435.2 293.36,452.8" fill="none" stroke="#000" stroke-width="1"/>
<circle cx="175.69" cy="422.4" r="2.6" fill="#000"/>
<circle cx="184.13" cy="437.1" r="2.6" fill="#000"/>
<circle cx="192.56" cy="428" r="2.6" fill="#000"/>
<circle cx="200.99" cy="428" r="2.6" fill="#000"/>
<circle cx="217.86" cy="428" r="2.6" fill="#000"/>
<circle cx="226.29" cy="426.1" r="2.6" fill="#000"/>
<circle cx="234.72" cy="428.7" r="2.6" fill="#000"/>
<circle cx="243.16" cy="427.6" r="2.6" fill="#000"/>
<circle cx="251.59" cy="437.9" r="2.6" fill="#000"/>
<circle cx="276.89" cy="432.9" r="2.6" fill="#000"/>
<circle cx="293.76" cy="435.2" r="2.6" fill="#000"/>
<path d="M23.5,388 V468 H291" fill="none" stroke="#333" stroke-width="1"/>
<path d="M23.5,468 v-3" stroke="#333" stroke-width="1"/>
<g transform="translate(23.5 481.5) scale(1 1.1)"><text font-size="11.5" text-anchor="middle"><tspan class="h">1</tspan>980</text><path d="M-9.61 0V-6.95L-11.4 -5.67V-6.63L-9.53 -7.91H-8.59V0Z" fill="#000" stroke="#000" stroke-width="0.3" stroke-linejoin="miter"/></g>
<path d="M65.5,468 v-3" stroke="#333" stroke-width="1"/>
<g transform="translate(65.66 481.5) scale(1 1.1)"><text font-size="11.5" text-anchor="middle"><tspan class="h">1</tspan>985</text><path d="M-9.61 0V-6.95L-11.4 -5.67V-6.63L-9.53 -7.91H-8.59V0Z" fill="#000" stroke="#000" stroke-width="0.3" stroke-linejoin="miter"/></g>
<path d="M107.5,468 v-3" stroke="#333" stroke-width="1"/>
<g transform="translate(107.83 481.5) scale(1 1.1)"><text font-size="11.5" text-anchor="middle"><tspan class="h">1</tspan>990</text><path d="M-9.61 0V-6.95L-11.4 -5.67V-6.63L-9.53 -7.91H-8.59V0Z" fill="#000" stroke="#000" stroke-width="0.3" stroke-linejoin="miter"/></g>
<path d="M149.5,468 v-3" stroke="#333" stroke-width="1"/>
<g transform="translate(150 481.5) scale(1 1.1)"><text font-size="11.5" text-anchor="middle"><tspan class="h">1</tspan>995</text><path d="M-9.61 0V-6.95L-11.4 -5.67V-6.63L-9.53 -7.91H-8.59V0Z" fill="#000" stroke="#000" stroke-width="0.3" stroke-linejoin="miter"/></g>
<path d="M192.5,468 v-3" stroke="#333" stroke-width="1"/>
<g transform="translate(192.16 481.5) scale(1 1.1)"><text font-size="11.5" text-anchor="middle">2000</text></g>
<path d="M234.5,468 v-3" stroke="#333" stroke-width="1"/>
<g transform="translate(234.32 481.5) scale(1 1.1)"><text font-size="11.5" text-anchor="middle">2005</text></g>
<path d="M276.5,468 v-3" stroke="#333" stroke-width="1"/>
<g transform="translate(276.49 481.5) scale(1 1.1)"><text font-size="11.5" text-anchor="middle">20<tspan class="h">1</tspan>0</text><path d="M3.17 0V-6.95L1.39 -5.67V-6.63L3.26 -7.91H4.19V0Z" fill="#000" stroke="#000" stroke-width="0.3" stroke-linejoin="miter"/></g>
<path d="M23.5,394.5 h2.5" stroke="#333" stroke-width="1"/>
<g transform="translate(19.8 397.77) scale(1 1.1)"><text font-size="11.5" text-anchor="end">0.<tspan class="h">1</tspan></text><path d="M-3.22 0V-6.95L-5 -5.67V-6.63L-3.13 -7.91H-2.2V0Z" fill="#000" stroke="#000" stroke-width="0.3" stroke-linejoin="miter"/></g>
<path d="M23.5,427.5 h2.5" stroke="#333" stroke-width="1"/>
<g transform="translate(19.8 431.1) scale(1 1.1)"><text font-size="11.5" text-anchor="end">0</text></g>
<path d="M23.5,461.5 h2.5" stroke="#333" stroke-width="1"/>
<rect x="-0.39" y="460.9" width="4.1" height="1.2" fill="#000"/>
<g transform="translate(19.8 464.43) scale(1 1.1)"><text font-size="11.5" text-anchor="end">0.<tspan class="h">1</tspan></text><path d="M-3.22 0V-6.95L-5 -5.67V-6.63L-3.13 -7.91H-2.2V0Z" fill="#000" stroke="#000" stroke-width="0.3" stroke-linejoin="miter"/></g>
<path d="M294,388 V468" fill="none" stroke="#ff0000" stroke-width="1"/>
<path d="M294,387.5 h-3" stroke="#ff0000" stroke-width="1"/>
<g transform="translate(296.9 391.1) scale(1 1.1)"><text font-size="11.5" class="r">0</text></g>
<path d="M294,427.5 h-3" stroke="#ff0000" stroke-width="1"/>
<rect x="297" y="426.93" width="3.6" height="1.2" fill="#ff0000"/>
<g transform="translate(300.73 431.1) scale(1 1.1)"><text font-size="11.5" class="r">5</text></g>
<path d="M294,468 h-3" stroke="#ff0000" stroke-width="1"/>
<rect x="297" y="466.93" width="3.6" height="1.2" fill="#ff0000"/>
<g transform="translate(300.73 471.1) scale(1 1.1)"><text font-size="11.5" class="r"><tspan class="h">1</tspan>0</text><path d="M3.17 0V-6.95L1.39 -5.67V-6.63L3.26 -7.91H4.19V0Z" fill="#ff0000" stroke="#ff0000" stroke-width="0.3" stroke-linejoin="miter"/></g>
<g transform="translate(492.23 377.7)"><text font-size="12" text-anchor="middle">NASA-SE</text></g>
<polyline points="510.29,442.3 518.73,433 527.16,437.4 535.59,458.5 544.03,436.7 552.46,447 569.33,428.2 577.76,437.9 586.19,445 603.06,431.7 611.49,428.2 619.92,425" fill="none" stroke="#ff0000" stroke-width="1" stroke-dasharray="4.5,4"/>
<polyline points="366.93,428.4 375.37,427.1 383.8,425.5 392.23,423.9 400.67,426.4 409.1,426.4 417.53,427.3 425.96,426.4 434.4,427.1 442.83,425.5 451.26,427.1 459.7,426.3 468.13,426.3 476.56,429.3 485,426.6 493.43,423.8 501.86,425.8 510.29,425.8 518.73,428.4 527.16,428.4 535.59,426.2 544.03,423 552.46,432.4 560.89,429.6 569.33,428.2 577.76,428.2 586.19,441.4 594.62,429.4 603.06,435.3 611.49,435.8 619.92,443.2 628.36,452" fill="none" stroke="#000" stroke-width="1"/>
<circle cx="510.69" cy="423.3" r="2.6" fill="#000"/>
<circle cx="519.13" cy="436.4" r="2.6" fill="#000"/>
<circle cx="527.56" cy="428" r="2.6" fill="#000"/>
<circle cx="535.99" cy="415.3" r="2.6" fill="#000"/>
<circle cx="544.43" cy="408.7" r="2.6" fill="#000"/>
<circle cx="552.86" cy="416" r="2.6" fill="#000"/>
<circle cx="561.29" cy="418" r="2.6" fill="#000"/>
<circle cx="569.73" cy="424.1" r="2.6" fill="#000"/>
<circle cx="578.16" cy="423.3" r="2.6" fill="#000"/>
<circle cx="586.59" cy="419.7" r="2.6" fill="#000"/>
<circle cx="603.46" cy="430.8" r="2.6" fill="#000"/>
<circle cx="611.89" cy="414.1" r="2.6" fill="#000"/>
<path d="M358.5,388 V468 H626" fill="none" stroke="#333" stroke-width="1"/>
<path d="M358.5,468 v-3" stroke="#333" stroke-width="1"/>
<g transform="translate(358.5 481.5) scale(1 1.1)"><text font-size="11.5" text-anchor="middle"><tspan class="h">1</tspan>980</text><path d="M-9.61 0V-6.95L-11.4 -5.67V-6.63L-9.53 -7.91H-8.59V0Z" fill="#000" stroke="#000" stroke-width="0.3" stroke-linejoin="miter"/></g>
<path d="M400.5,468 v-3" stroke="#333" stroke-width="1"/>
<g transform="translate(400.67 481.5) scale(1 1.1)"><text font-size="11.5" text-anchor="middle"><tspan class="h">1</tspan>985</text><path d="M-9.61 0V-6.95L-11.4 -5.67V-6.63L-9.53 -7.91H-8.59V0Z" fill="#000" stroke="#000" stroke-width="0.3" stroke-linejoin="miter"/></g>
<path d="M442.5,468 v-3" stroke="#333" stroke-width="1"/>
<g transform="translate(442.83 481.5) scale(1 1.1)"><text font-size="11.5" text-anchor="middle"><tspan class="h">1</tspan>990</text><path d="M-9.61 0V-6.95L-11.4 -5.67V-6.63L-9.53 -7.91H-8.59V0Z" fill="#000" stroke="#000" stroke-width="0.3" stroke-linejoin="miter"/></g>
<path d="M484.5,468 v-3" stroke="#333" stroke-width="1"/>
<g transform="translate(485 481.5) scale(1 1.1)"><text font-size="11.5" text-anchor="middle"><tspan class="h">1</tspan>995</text><path d="M-9.61 0V-6.95L-11.4 -5.67V-6.63L-9.53 -7.91H-8.59V0Z" fill="#000" stroke="#000" stroke-width="0.3" stroke-linejoin="miter"/></g>
<path d="M527.5,468 v-3" stroke="#333" stroke-width="1"/>
<g transform="translate(527.16 481.5) scale(1 1.1)"><text font-size="11.5" text-anchor="middle">2000</text></g>
<path d="M569.5,468 v-3" stroke="#333" stroke-width="1"/>
<g transform="translate(569.33 481.5) scale(1 1.1)"><text font-size="11.5" text-anchor="middle">2005</text></g>
<path d="M611.5,468 v-3" stroke="#333" stroke-width="1"/>
<g transform="translate(611.49 481.5) scale(1 1.1)"><text font-size="11.5" text-anchor="middle">20<tspan class="h">1</tspan>0</text><path d="M3.17 0V-6.95L1.39 -5.67V-6.63L3.26 -7.91H4.19V0Z" fill="#000" stroke="#000" stroke-width="0.3" stroke-linejoin="miter"/></g>
<path d="M358.5,394.5 h2.5" stroke="#333" stroke-width="1"/>
<g transform="translate(354.8 397.77) scale(1 1.1)"><text font-size="11.5" text-anchor="end">0.<tspan class="h">1</tspan></text><path d="M-3.22 0V-6.95L-5 -5.67V-6.63L-3.13 -7.91H-2.2V0Z" fill="#000" stroke="#000" stroke-width="0.3" stroke-linejoin="miter"/></g>
<path d="M358.5,427.5 h2.5" stroke="#333" stroke-width="1"/>
<g transform="translate(354.8 431.1) scale(1 1.1)"><text font-size="11.5" text-anchor="end">0</text></g>
<path d="M358.5,461.5 h2.5" stroke="#333" stroke-width="1"/>
<rect x="334.62" y="460.9" width="4.1" height="1.2" fill="#000"/>
<g transform="translate(354.8 464.43) scale(1 1.1)"><text font-size="11.5" text-anchor="end">0.<tspan class="h">1</tspan></text><path d="M-3.22 0V-6.95L-5 -5.67V-6.63L-3.13 -7.91H-2.2V0Z" fill="#000" stroke="#000" stroke-width="0.3" stroke-linejoin="miter"/></g>
<path d="M629,388 V468" fill="none" stroke="#ff0000" stroke-width="1"/>
<path d="M629,387.5 h-3" stroke="#ff0000" stroke-width="1"/>
<g transform="translate(631.9 391.1) scale(1 1.1)"><text font-size="11.5" class="r">0</text></g>
<path d="M629,427.5 h-3" stroke="#ff0000" stroke-width="1"/>
<rect x="632" y="426.93" width="3.6" height="1.2" fill="#ff0000"/>
<g transform="translate(635.73 431.1) scale(1 1.1)"><text font-size="11.5" class="r">5</text></g>
<path d="M629,468 h-3" stroke="#ff0000" stroke-width="1"/>
<rect x="632" y="466.93" width="3.6" height="1.2" fill="#ff0000"/>
<g transform="translate(635.73 471.1) scale(1 1.1)"><text font-size="11.5" class="r"><tspan class="h">1</tspan>0</text><path d="M3.17 0V-6.95L1.39 -5.67V-6.63L3.26 -7.91H4.19V0Z" fill="#ff0000" stroke="#ff0000" stroke-width="0.3" stroke-linejoin="miter"/></g>
</svg>
</body></html>
